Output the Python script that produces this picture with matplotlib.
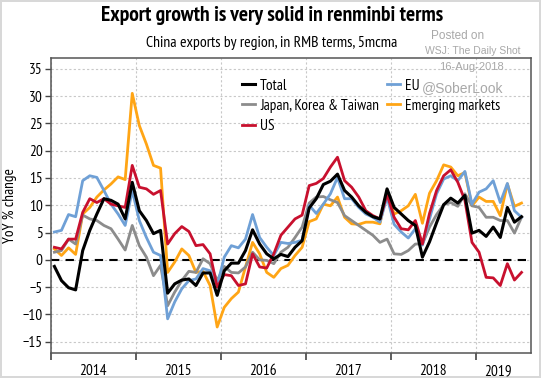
import numpy as np
import matplotlib
matplotlib.use("Agg")
import matplotlib.pyplot as plt
from matplotlib.ticker import FixedLocator, NullFormatter

# monthly, Jan 2014 .. Jul 2019 (5mcma, YoY %)
total = [-1.2, -3.8, -5.1, -5.5, 1.7, 5.4, 8.4, 11.2, 10.9, 10.2, 7.5, 14.2,
         9.0, 7.2, 4.8, 5.4, -6.1, -4.4, -3.7, -3.5, -4.7, -2.4, -2.4, -6.5,
         -2.0, -0.6, -0.6, 1.7, 5.5, 2.9, 1.1, 0.2, 1.0, 0.6, 2.3, 3.5,
         9.5, 11.2, 13.8, 14.4, 15.7, 12.7, 11.5, 9.9, 8.7, 7.9, 7.5, 13.0,
         9.6, 8.4, 7.2, 6.3, 0.5, 3.3, 6.8, 10.1, 11.3, 10.4, 11.8, 4.9,
         5.4, 4.3, 6.0, 4.1, 9.6, 6.9, 7.9]
us = [2.3, 2.0, 3.8, 3.8, 8.7, 11.2, 10.5, 11.2, 10.2, 9.9, 9.6, 17.3,
      13.3, 13.0, 12.0, 12.7, 2.9, 4.8, 6.1, 5.2, 2.6, 2.8, 1.1, -5.0,
      -2.7, -2.9, -4.7, -4.4, 1.1, -1.3, -1.5, 1.1, 4.5, 6.0, 7.5, 8.2,
      13.6, 14.0, 14.9, 17.0, 18.8, 14.5, 13.3, 11.5, 9.0, 8.1, 7.5, 12.0,
      7.8, 5.7, 5.5, 7.2, 2.9, 8.5, 12.7, 15.4, 16.5, 14.2, 10.9, 3.2,
      1.4, -3.2, -3.3, -4.7, -0.7, -3.7, -2.3]
emerging = [2.0, 0.8, 2.2, 1.0, 8.4, 9.6, 11.5, 12.8, 13.9, 15.2, 14.7, 30.5,
            24.6, 21.2, 17.3, 16.8, -2.3, -0.4, 2.0, 0.8, -2.3, -2.1, -4.7, -12.3,
            -8.7, -7.1, -5.9, -1.3, 3.2, 1.1, -2.3, -3.2, -1.6, -1.0, 0.8, 2.3,
            7.0, 7.5, 10.2, 9.9, 11.5, 7.8, 6.6, 6.5, 6.9, 6.9, 6.6, 12.7,
            8.4, 9.0, 9.9, 12.0, 6.7, 12.2, 14.5, 17.4, 17.0, 15.4, 16.0, 9.9,
            11.5, 10.7, 10.7, 8.1, 13.9, 9.8, 10.4]
eu = [5.1, 5.4, 8.3, 7.9, 14.5, 15.4, 15.1, 12.7, 10.2, 8.4, 6.3, 12.7,
      7.2, 4.1, 1.4, 0.8, -10.8, -7.7, -5.3, -3.8, -3.5, -1.6, -2.0, -4.7,
      0.5, 2.6, 2.2, 3.8, 8.3, 4.1, 2.3, 0.8, 3.2, 3.0, 3.2, 3.6,
      10.0, 8.5, 10.2, 12.1, 15.1, 11.2, 11.2, 9.6, 8.4, 7.8, 6.9, 11.5,
      6.5, 5.1, 4.0, 5.7, 2.7, 7.5, 12.1, 14.8, 15.4, 14.5, 16.2, 10.2,
      12.4, 13.0, 14.5, 10.5, 14.0, 9.0, 7.8]
jkt = [1.4, 1.7, 3.8, 2.9, 8.2, 7.5, 7.2, 6.3, 5.7, 3.8, 1.8, 6.3,
       2.6, 0.5, -2.9, -1.0, -8.4, -5.9, -3.8, -2.1, -2.3, 0.2, -0.7, -3.8,
       -1.2, -2.3, -2.4, -1.3, 1.4, 0.0, -0.1, -0.7, 1.4, 2.3, 4.1, 6.0,
       10.4, 11.5, 11.6, 11.0, 10.5, 8.1, 7.2, 6.3, 5.4, 4.5, 3.2, 3.8,
       1.1, 1.0, 1.7, 2.9, 2.9, 6.0, 8.3, 10.1, 10.5, 9.8, 12.1, 9.9,
       9.6, 7.8, 7.8, 7.2, 7.2, 4.9, 7.8]
years = ['2014', '2015', '2016', '2017', '2018', '2019']

# condensed face like the original; falls back if missing
plt.rcParams['font.family'] = ['PT Sans Narrow', 'Roboto Condensed', 'Liberation Sans', 'DejaVu Sans']

fig = plt.figure(figsize=(5.41, 3.78), dpi=100, edgecolor='#d8d8d8', linewidth=1.5)
ax = fig.add_axes([0.094, 0.067, 0.887, 0.78])

x = np.arange(len(total)) + 0.5
ax.plot(x, total, color='black', lw=2.2, label='Total', zorder=6)
ax.plot(x, jkt, color='#8c8c8c', lw=2.0, label='Japan, Korea & Taiwan', zorder=3)
ax.plot(x, us, color='#c8102e', lw=2.0, label='US', zorder=5)
ax.plot(x, eu, color='#6fa0d6', lw=2.0, label='EU', zorder=4)
ax.plot(x, emerging, color='#ffa515', lw=2.0, label='Emerging markets', zorder=2)
ax.axhline(0, color='black', lw=1.5, ls=(0, (4, 3)), zorder=1)

ax.set_xlim(0, 67.8)
ax.set_ylim(-17, 37)
ax.set_yticks(np.arange(-15, 36, 5))
ax.xaxis.set_major_locator(FixedLocator(np.arange(0, 61, 12)))
ax.xaxis.set_major_formatter(NullFormatter())
ax.xaxis.set_minor_locator(FixedLocator([6, 18, 30, 42, 54, 63.2]))
ax.set_xticklabels(years, minor=True)
ax.tick_params(axis='x', which='minor', length=0, pad=8, labelsize=11)
ax.tick_params(axis='x', which='major', length=5, width=1.2, color='#444444')
ax.tick_params(axis='y', length=4, width=1, labelsize=11, color='#444444', pad=2)
ax.grid(True, which='major', color='#c8c8c8', ls=(0, (2, 2)), lw=0.8)
ax.set_axisbelow(True)
for s in ax.spines.values():
    s.set_color('#555555')
    s.set_linewidth(1.1)
ax.set_ylabel('YoY % change', fontsize=11, labelpad=4)

handles, labels = ax.get_legend_handles_labels()
ax.legend(handles, labels, ncol=2, loc='upper left', bbox_to_anchor=(0.385, 0.95),
          frameon=False, fontsize=11, handlelength=0.9, handletextpad=0.3,
          columnspacing=0.5, labelspacing=0.4, borderaxespad=0)

fig.text(0.502, 0.96, 'Export growth is very solid in renminbi terms',
         ha='center', va='center', fontsize=15.5, fontweight='bold')
fig.text(0.503, 0.885, 'China exports by region, in RMB terms, 5mcma',
         ha='center', va='center', fontsize=11.3)

wm = ['Liberation Sans', 'DejaVu Sans']
fig.text(0.845, 0.905, 'Posted on', ha='center', va='center', fontsize=8.5,
         color='#a8a8a8', family=wm)
fig.text(0.873, 0.865, 'WSJ: The Daily Shot', ha='center', va='center',
         fontsize=7.5, color='#a8a8a8', family=wm)
fig.text(0.872, 0.823, '16-Aug-2018', ha='center', va='center', fontsize=8,
         color='#a8a8a8', family=wm)
fig.text(0.855, 0.767, '@SoberLook', ha='center', va='center', fontsize=10,
         color='#a8a8a8', family=wm)

fig.savefig('out.png', dpi=100, edgecolor=fig.get_edgecolor())
